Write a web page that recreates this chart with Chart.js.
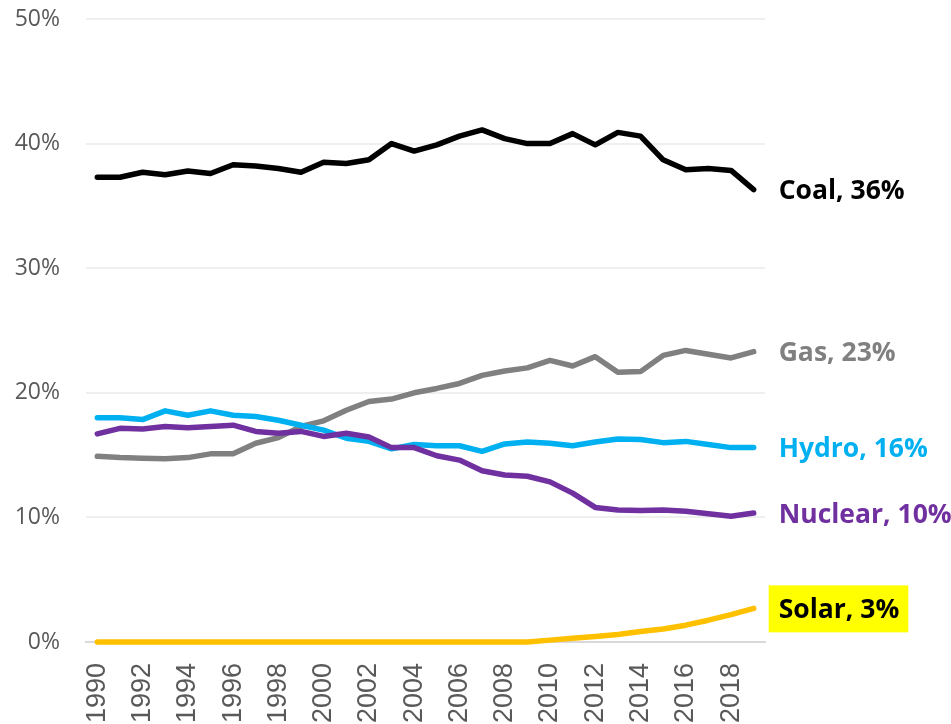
<!DOCTYPE html>
<html>
<head>
<meta charset="utf-8">
<script src="https://cdn.jsdelivr.net/npm/chart.js@4"></script>
<style>
  html, body { margin: 0; padding: 0; background: #fff; }
  #wrap { width: 951px; height: 724px; }
</style>
</head>
<body>
<div id="wrap"><canvas id="myChart"></canvas></div>
<script>
const years = []
for (let y = 1990; y <= 2019; y++) years.push(String(y))

const coal = [37.3, 37.3, 37.7, 37.5, 37.8, 37.6, 38.3, 38.2, 38.0, 37.7,
  38.5, 38.4, 38.7, 40.0, 39.4, 39.9, 40.6, 41.1, 40.4, 40.0,
  40.0, 40.8, 39.9, 40.9, 40.6, 38.7, 37.9, 38.0, 37.85, 36.3]
const gas = [14.9, 14.8, 14.75, 14.7, 14.8, 15.1, 15.1, 15.95, 16.4, 17.3,
  17.75, 18.6, 19.3, 19.5, 20.0, 20.35, 20.75, 21.4, 21.75, 22.0,
  22.6, 22.15, 22.9, 21.65, 21.7, 23.0, 23.4, 23.1, 22.8, 23.3]
const hydro = [18.0, 18.0, 17.85, 18.55, 18.2, 18.55, 18.2, 18.1, 17.8, 17.4,
  17.0, 16.35, 16.1, 15.5, 15.85, 15.75, 15.75, 15.3, 15.9, 16.05,
  15.95, 15.75, 16.05, 16.3, 16.25, 16.0, 16.1, 15.85, 15.6, 15.6]
const nuclear = [16.7, 17.15, 17.1, 17.3, 17.2, 17.3, 17.4, 16.9, 16.75, 16.9,
  16.5, 16.75, 16.45, 15.6, 15.6, 14.95, 14.6, 13.75, 13.4, 13.3,
  12.85, 11.95, 10.8, 10.6, 10.55, 10.6, 10.5, 10.3, 10.1, 10.35]
const solar = [0, 0, 0, 0, 0, 0, 0, 0, 0, 0,
  0, 0, 0, 0, 0, 0, 0, 0, 0, 0,
  0.15, 0.3, 0.45, 0.6, 0.85, 1.05, 1.35, 1.75, 2.2, 2.7]

const seriesNames = ['Coal', 'Gas', 'Hydro', 'Nuclear', 'Solar']
const seriesColors = ['#000000', '#808080', '#00b0f0', '#7030a0', '#ffc000']
const endLabels = ['Coal, 36%', 'Gas, 23%', 'Hydro, 16%', 'Nuclear, 10%', 'Solar, 3%']
const endLabelColors = ['#000000', '#808080', '#00b0f0', '#7030a0', '#000000']
const yTicks = [0, 10, 20, 30, 40, 50]

const ctx = document.getElementById('myChart')

// draws the "Coal, 36%" style labels next to the last point of each line
const endLabelPlugin = {
  id: 'endLabels',
  afterDatasetsDraw(chart) {
    const c = chart.ctx
    c.save()
    c.font = 'bold 26.5px "Open Sans"'
    c.textBaseline = 'middle'
    c.textAlign = 'left'
    chart.data.datasets.forEach((ds, i) => {
      const meta = chart.getDatasetMeta(i)
      const pt = meta.data[meta.data.length - 1]
      const x = pt.x + 25
      const y = pt.y + 2
      if (seriesNames[i] === 'Solar') {
        const w = c.measureText(endLabels[i]).width
        c.fillStyle = '#ffff00'
        c.fillRect(x - 10, y - 25, w + 19, 47)
      }
      c.fillStyle = endLabelColors[i]
      c.fillText(endLabels[i], x, y)
    })
    c.restore()
  }
}

new Chart(ctx, {
  type: 'line',
  data: {
    labels: years,
    datasets: [coal, gas, hydro, nuclear, solar].map((d, i) => ({
      label: seriesNames[i],
      data: d,
      borderColor: seriesColors[i],
      backgroundColor: seriesColors[i],
      borderWidth: 5.5,
      pointRadius: 0,
      tension: 0,
      borderCapStyle: 'round',
      borderJoinStyle: 'round',
      clip: false,
      order: 4 - i
    }))
  },
  options: {
    responsive: true,
    maintainAspectRatio: false,
    animation: false,
    layout: { padding: { left: 0, right: 186, top: 0, bottom: 0 } },
    plugins: {
      legend: { display: false },
      tooltip: { enabled: false }
    },
    scales: {
      x: {
        offset: true,
        grid: { display: false, drawTicks: false },
        border: { display: true, color: '#d9d9d9', width: 2 },
        ticks: {
          autoSkip: false,
          minRotation: 90,
          maxRotation: 90,
          padding: 21,
          color: '#595959',
          font: { family: '"Liberation Sans", Arial', size: 27 },
          callback: function (val, index) {
            return index % 2 === 0 ? this.getLabelForValue(val) : ''
          }
        },
        afterFit(scale) { scale.height = 82 }
      },
      y: {
        min: 0,
        max: 50,
        afterBuildTicks(scale) { scale.ticks = yTicks.map(v => ({ value: v })) },
        grid: {
          drawTicks: false,
          color: ctx => ctx.tick && ctx.tick.value === 0 ? '#d9d9d9' : '#efefef',
          lineWidth: 2
        },
        border: { display: false },
        ticks: {
          padding: 26,
          color: '#595959',
          font: { family: '"Open Sans"', size: 23 },
          callback: v => v + '%'
        },
        afterFit(scale) {
          scale.width = 86
          scale.paddingTop = 19
          scale.paddingBottom = 0
        }
      }
    }
  },
  plugins: [endLabelPlugin]
})
</script>
</body>
</html>
